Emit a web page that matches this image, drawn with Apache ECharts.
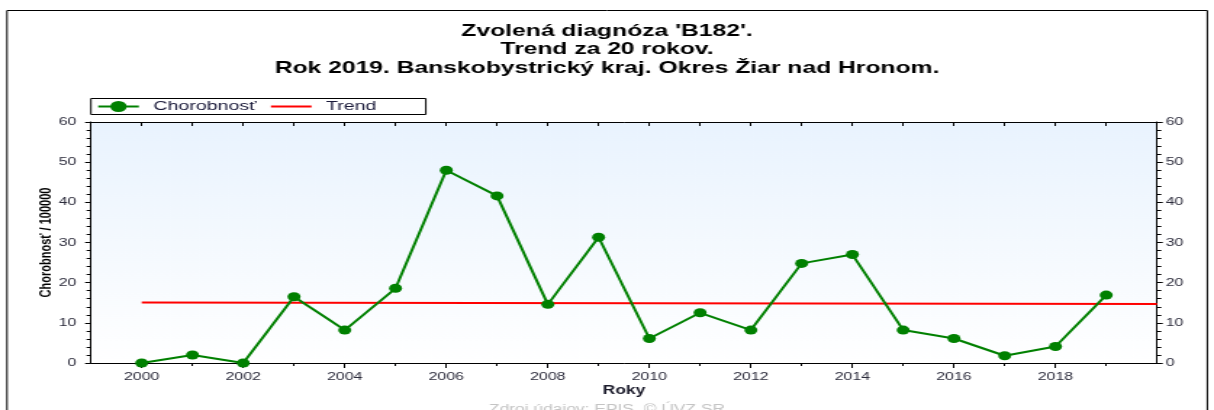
<!DOCTYPE html>
<html>
<head>
<meta charset="utf-8">
<script src="https://cdn.jsdelivr.net/npm/echarts@6/dist/echarts.min.js"></script>
<style>
  html, body { margin: 0; padding: 0; background: #fff; overflow: hidden; }
  /* povodny obrazok je vodorovne roztiahnuty, preto kreslime uzsi graf a natiahneme ho */
  #chart { width: 837px; height: 410px; transform: scaleX(1.4504); transform-origin: 0 0; }
</style>
</head>
<body>
<div id="chart"></div>
<script>
// roky a chorobnost na 100000 obyvatelov
const years = [2000, 2001, 2002, 2003, 2004, 2005, 2006, 2007, 2008, 2009,
  2010, 2011, 2012, 2013, 2014, 2015, 2016, 2017, 2018, 2019]
const morbidity = [0, 2.0, 0, 16.5, 8.2, 18.6, 48.0, 41.6, 14.6, 31.3,
  6.1, 12.5, 8.2, 24.8, 27.0, 8.2, 6.1, 1.8, 4.1, 16.9]
// linearny trend - zaciatok a koniec
const trendYears = [2000, 2020]
const trendValues = [15.05, 14.7]
const yearLabels = [2000, 2002, 2004, 2006, 2008, 2010, 2012, 2014, 2016, 2018]
const oddYears = [2001, 2003, 2005, 2007, 2009, 2011, 2013, 2015, 2017, 2019]
const titleLines = [
  "Zvolená diagnóza 'B182'.",
  'Trend za 20 rokov.',
  'Rok 2019. Banskobystrický kraj. Okres Žiar nad Hronom.'
]

const chart = echarts.init(document.getElementById('chart'))
const font = 'Liberation Sans'
const labelColor = '#2b2b3b'

const yAxisBase = {
  type: 'value',
  min: 0,
  max: 60,
  interval: 10,
  splitLine: { show: false },
  axisLine: { show: true, lineStyle: { color: '#000', width: 1 } },
  axisTick: { show: true, length: 4, lineStyle: { color: '#000' } },
  minorTick: { show: true, splitNumber: 5, length: 3, lineStyle: { color: '#000' } },
  axisLabel: { color: labelColor, fontSize: 11, fontFamily: font }
}

const xAxisBase = {
  type: 'value',
  min: 1999,
  max: 2020,
  splitLine: { show: false }
}

const option = {
  animation: false,
  backgroundColor: '#fff',
  title: {
    text: titleLines.join('\n'),
    left: 'center',
    top: 17,
    textStyle: { fontFamily: font, fontWeight: 'bold', fontSize: 17, lineHeight: 18.5, color: '#000' }
  },
  legend: {
    left: 62.7,
    top: 98.5,
    backgroundColor: '#fff',
    borderColor: '#000',
    borderWidth: 1,
    borderRadius: 0,
    padding: [1, 34, 1, 4],
    itemGap: 9,
    itemWidth: 28,
    itemHeight: 14,
    textStyle: { fontFamily: font, fontSize: 13.5, color: '#1a1a3a', padding: [0, 0, 0, 5] },
    data: ['Chorobnosť', { name: 'Trend', itemStyle: { opacity: 0 } }]
  },
  grid: {
    left: 62.7,
    right: 39.3,
    top: 122,
    bottom: 47,
    show: true,
    borderWidth: 0,
    backgroundColor: new echarts.graphic.LinearGradient(0, 0, 0, 1, [
      { offset: 0, color: '#e9f3fe' },
      { offset: 1, color: '#ffffff' }
    ])
  },
  xAxis: [Object.assign({}, xAxisBase, {
    name: 'Roky',
    nameLocation: 'middle',
    nameGap: 22,
    nameMoveOverlap: false,
    nameTextStyle: { fontFamily: font, fontWeight: 'bold', fontSize: 12, color: '#1a1a2a' },
    axisLine: { show: true, onZero: false, lineStyle: { color: '#000' } },
    axisTick: { show: true, length: 5, customValues: yearLabels, lineStyle: { color: '#000' } },
    axisLabel: {
      customValues: yearLabels,
      color: labelColor,
      fontSize: 11,
      fontFamily: font,
      margin: 8,
      formatter: v => String(v)
    }
  }), Object.assign({}, xAxisBase, {
    position: 'top',
    axisLine: { show: true, onZero: false, lineStyle: { color: '#000' } },
    axisTick: { show: true, inside: true, length: 4, customValues: years, lineStyle: { color: '#000' } },
    axisLabel: { show: false }
  }), Object.assign({}, xAxisBase, {
    position: 'bottom',
    axisLine: { show: false, onZero: false },
    axisTick: { show: true, length: 3, customValues: oddYears, lineStyle: { color: '#000' } },
    axisLabel: { show: false }
  })],
  yAxis: [Object.assign({}, yAxisBase, {
    position: 'left',
    name: 'Chorobnosť / 100000',
    nameLocation: 'middle',
    nameGap: 25,
    nameMoveOverlap: false,
    nameTextStyle: { fontFamily: font, fontWeight: 'bold', fontSize: 11, color: '#000' },
    axisLabel: Object.assign({}, yAxisBase.axisLabel, { margin: 10 })
  }), Object.assign({}, yAxisBase, {
    position: 'right',
    axisLabel: Object.assign({}, yAxisBase.axisLabel, { margin: 6 })
  })],
  graphic: [{
    type: 'rect',
    silent: true,
    shape: { x: 4.8, y: 10.5, width: 827.6, height: 440 },
    style: { fill: 'none', stroke: '#000', lineWidth: 1 }
  }, {
    type: 'text',
    silent: true,
    left: 'center',
    top: 404,
    style: { text: 'Zdroj údajov: EPIS, © ÚVZ SR', font: '12px Liberation Sans', fill: '#c4c4c4' }
  }],
  series: [{
    name: 'Chorobnosť',
    type: 'line',
    data: years.map((y, i) => [y, morbidity[i]]),
    symbol: 'circle',
    symbolSize: 9,
    color: '#008000',
    lineStyle: { color: '#008000', width: 2 },
    itemStyle: { color: '#008000' },
    z: 3
  }, {
    name: 'Trend',
    type: 'line',
    data: trendYears.map((y, i) => [y, trendValues[i]]),
    symbol: 'none',
    color: '#ff0000',
    lineStyle: { color: '#ff0000', width: 2 },
    z: 2
  }]
}

chart.setOption(option)
</script>
</body>
</html>
